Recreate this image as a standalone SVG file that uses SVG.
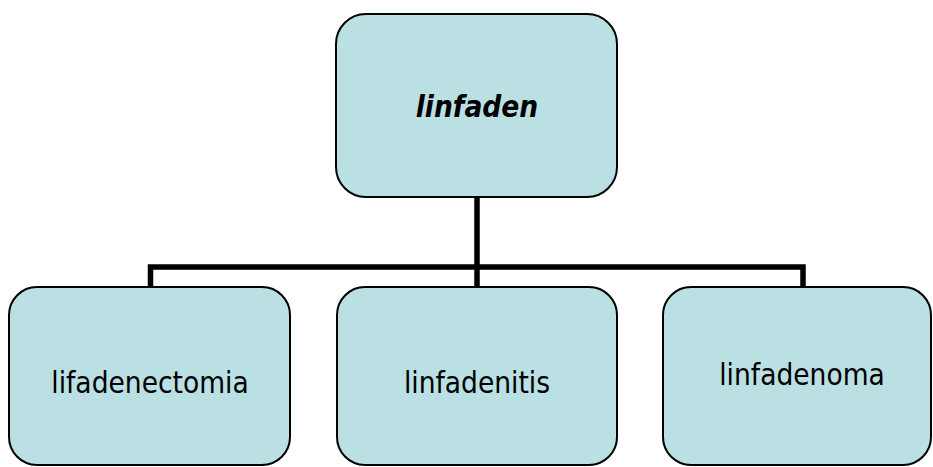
<svg xmlns="http://www.w3.org/2000/svg" width="933" height="467" viewBox="0 0 933 467">
<style>
.box{fill:#BAE0E3;stroke:#000;stroke-width:2}
.lbl{font-family:"DejaVu Sans Condensed","DejaVu Sans",sans-serif;font-stretch:condensed;font-size:29.5px;fill:#000;text-anchor:middle}
.conn{fill:none;stroke:#000;stroke-width:5.5}
</style>
<rect width="933" height="467" fill="#fff"/>
<g id="connectors">
<line class="conn" x1="477" y1="197" x2="477" y2="287"/>
<polyline class="conn" points="150.5,287 150.5,267 803,267 803,287"/>
</g>
<g id="node-linfaden">
<rect class="box" x="336" y="14" width="281" height="183" rx="30"/>
<text class="lbl" x="477" y="117" font-weight="bold" font-style="italic">linfaden</text>
</g>
<g id="node-lifadenectomia">
<rect class="box" x="9" y="287" width="281" height="178" rx="28"/>
<text class="lbl" x="150" y="393">lifadenectomia</text>
</g>
<g id="node-linfadenitis">
<rect class="box" x="337" y="287" width="280" height="178" rx="28"/>
<text class="lbl" x="477" y="393">linfadenitis</text>
</g>
<g id="node-linfadenoma">
<rect class="box" x="663" y="287" width="268" height="178" rx="28"/>
<text class="lbl" x="802" y="385">linfadenoma</text>
</g>
</svg>
